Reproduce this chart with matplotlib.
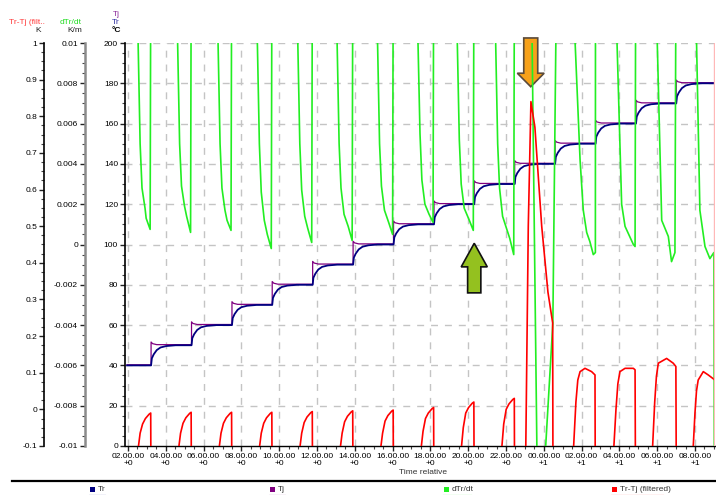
import matplotlib
matplotlib.use("Agg")
import matplotlib.pyplot as plt
from matplotlib.lines import Line2D
from matplotlib.patches import Polygon, Rectangle
from matplotlib.ticker import FixedLocator, MultipleLocator

plt.rcParams['font.family'] = ['Liberation Sans', 'DejaVu Sans']

# x axis is in hours counted from 00:00 of day +0
x_ticks = [2, 4, 6, 8, 10, 12, 14, 16, 18, 20, 22, 24, 26, 28, 30, 32]
x_labels = ["02.00.00\n+0", "04.00.00\n+0", "06.00.00\n+0", "08.00.00\n+0",
            "10.00.00\n+0", "12.00.00\n+0", "14.00.00\n+0", "16.00.00\n+0",
            "18.00.00\n+0", "20.00.00\n+0", "22.00.00\n+0", "00.00.00\n+1",
            "02.00.00\n+1", "04.00.00\n+1", "06.00.00\n+1", "08.00.00\n+1"]

temp_ticks = [0, 20, 40, 60, 80, 100, 120, 140, 160, 180, 200]
rate_ticks = [-0.01, -0.008, -0.006, -0.004, -0.002, 0, 0.002, 0.004, 0.006, 0.008, 0.01]
rate_labels = ["-0.01", "-0.008", "-0.006", "-0.004", "-0.002", "0",
               "0.002", "0.004", "0.006", "0.008", "0.01"]
diff_ticks = [-0.1, 0, 0.1, 0.2, 0.3, 0.4, 0.5, 0.6, 0.7, 0.8, 0.9, 1.0]
diff_labels = ["-0.1", "0", "0.1", "0.2", "0.3", "0.4", "0.5", "0.6", "0.7", "0.8", "0.9", "1"]

# Tr (reactor temperature)
tr_t = [1.95, 3.22, 3.26, 3.36, 3.52, 3.72, 4.02, 4.52,
        5.36, 5.40, 5.50, 5.66, 5.86, 6.16, 6.66,
        7.50, 7.54, 7.64, 7.80, 8.00, 8.30, 8.80,
        9.63, 9.67, 9.77, 9.93, 10.13, 10.43, 10.93,
        11.77, 11.81, 11.91, 12.07, 12.27, 12.57, 13.07,
        13.91, 13.95, 14.05, 14.21, 14.41, 14.71, 15.21,
        16.05, 16.09, 16.19, 16.35, 16.55, 16.85, 17.35,
        18.19, 18.23, 18.33, 18.49, 18.69, 18.99, 19.49,
        20.32, 20.36, 20.46, 20.62, 20.82, 21.12, 21.62,
        22.46, 22.50, 22.60, 22.76, 22.96, 23.26, 23.76,
        24.60, 24.64, 24.74, 24.90, 25.10, 25.40, 25.90,
        26.74, 26.78, 26.88, 27.04, 27.24, 27.54, 28.04,
        28.88, 28.92, 29.02, 29.18, 29.38, 29.68, 30.18,
        31.01, 31.05, 31.15, 31.31, 31.51, 31.81, 32.31, 33.06]
tr_v = [40, 40, 43.5, 45.5, 47.6, 48.9, 49.6, 50,
        50, 53.5, 55.5, 57.6, 58.9, 59.6, 60,
        60, 63.5, 65.5, 67.6, 68.9, 69.6, 70,
        70, 73.5, 75.5, 77.6, 78.9, 79.6, 80,
        80, 83.5, 85.5, 87.6, 88.9, 89.6, 90,
        90, 93.5, 95.5, 97.6, 98.9, 99.6, 100,
        100, 103.5, 105.5, 107.6, 108.9, 109.6, 110,
        110, 113.5, 115.5, 117.6, 118.9, 119.6, 120,
        120, 123.5, 125.5, 127.6, 128.9, 129.6, 130,
        130, 133.5, 135.5, 137.6, 138.9, 139.6, 140,
        140, 143.5, 145.5, 147.6, 148.9, 149.6, 150,
        150, 153.5, 155.5, 157.6, 158.9, 159.6, 160,
        160, 163.5, 165.5, 167.6, 168.9, 169.6, 170,
        170, 173.5, 175.5, 177.6, 178.9, 179.6, 180, 180]

# Tj (jacket temperature)
tj_t = [1.95, 3.22, 3.22, 3.30, 3.52, 5.36, 5.36, 5.44, 5.66,
        7.50, 7.50, 7.58, 7.80, 9.63, 9.63, 9.71, 9.93,
        11.77, 11.77, 11.85, 12.07, 13.91, 13.91, 13.99, 14.21,
        16.05, 16.05, 16.13, 16.35, 18.19, 18.19, 18.27, 18.49,
        20.32, 20.32, 20.40, 20.62, 22.46, 22.46, 22.54, 22.76,
        24.60, 24.60, 24.68, 24.90, 26.74, 26.74, 26.82, 27.04,
        28.88, 28.88, 28.96, 29.18, 31.01, 31.01, 31.09, 31.31, 33.06]
tj_v = [40.3, 40.3, 51.6, 50.8, 50.3, 50.3, 61.6, 60.8, 60.3,
        60.3, 71.6, 70.8, 70.3, 70.3, 81.6, 80.8, 80.3,
        80.3, 91.6, 90.8, 90.3, 90.3, 101.6, 100.8, 100.3,
        100.3, 111.6, 110.8, 110.3, 110.3, 121.6, 120.8, 120.3,
        120.3, 131.6, 130.8, 130.3, 130.3, 141.6, 140.8, 140.3,
        140.3, 151.6, 150.8, 150.3, 150.3, 161.6, 160.8, 160.3,
        160.3, 171.6, 170.8, 170.3, 170.3, 181.6, 180.8, 180.3, 180.3]

# dTr/dt
dtr_t = [1.84,
         2.53, 2.64, 2.74, 2.90, 2.96, 3.17, 3.22,
         4.62, 4.73, 4.83, 4.99, 5.10, 5.31, 5.36,
         6.76, 6.87, 6.97, 7.13, 7.24, 7.45, 7.50,
         8.84, 8.95, 9.05, 9.21, 9.37, 9.58, 9.63,
         10.98, 11.09, 11.19, 11.35, 11.51, 11.72, 11.77,
         13.06, 13.17, 13.27, 13.43, 13.65, 13.86, 13.91,
         15.20, 15.31, 15.41, 15.57, 15.79, 16.00, 16.05,
         17.34, 17.45, 17.55, 17.71, 17.93, 18.14, 18.19,
         19.42, 19.53, 19.63, 19.79, 20.06, 20.27, 20.32,
         21.45, 21.56, 21.66, 21.82, 22.20, 22.41, 22.46,
         23.38, 23.64, 24.07, 24.48, 24.64, 24.66,
         25.65, 25.92, 26.09, 26.27, 26.44, 26.62, 26.73, 26.74,
         27.87, 28.12, 28.30, 28.74, 28.83, 28.88,
         30.00, 30.24, 30.59, 30.76, 30.94, 31.02,
         32.08, 32.26, 32.53, 32.79, 33.00, 33.04]
dtr_v = [0.02,
         0.0102, 0.005, 0.0028, 0.0018, 0.0013, 0.00075, 0.02,
         0.0102, 0.005, 0.0029, 0.0019, 0.0014, 0.0006, 0.02,
         0.0102, 0.005, 0.0028, 0.0017, 0.0012, 0.0007, 0.02,
         0.0102, 0.005, 0.0026, 0.0012, 0.0005, -0.0002, 0.02,
         0.0102, 0.005, 0.0027, 0.0014, 0.0008, 0.0001, 0.02,
         0.0102, 0.005, 0.0028, 0.0015, 0.0009, 0.0002, 0.02,
         0.0102, 0.005, 0.0029, 0.0017, 0.0011, 0.0005, 0.02,
         0.0102, 0.0055, 0.0032, 0.002, 0.0015, 0.0011, 0.02,
         0.0102, 0.0052, 0.003, 0.0018, 0.0012, 0.0007, 0.02,
         0.0102, 0.005, 0.0028, 0.0014, 0.0003, -0.0005, 0.02,
         0.0102, -0.0105, -0.0105, -0.0039, 0.0102, 0.02,
         0.0102, 0.0042, 0.0017, 0.0006, 0.00014, -0.0005, -0.0004, 0.02,
         0.0102, 0.002, 0.0009, 0.0, -0.0001, 0.02,
         0.0102, 0.0012, 0.0004, -0.00085, -0.0004, 0.02,
         0.0102, 0.0017, -0.0001, -0.0007, -0.0004, -0.02]

# Tr-Tj (filtered)
diff_t = [1.84,
          2.53, 2.64, 2.77, 2.92, 3.12, 3.20, 3.22,
          4.67, 4.78, 4.91, 5.06, 5.26, 5.34, 5.36,
          6.81, 6.92, 7.05, 7.20, 7.40, 7.48, 7.50,
          8.94, 9.05, 9.18, 9.33, 9.53, 9.61, 9.63,
          11.08, 11.19, 11.32, 11.47, 11.67, 11.75, 11.77,
          13.22, 13.33, 13.46, 13.61, 13.81, 13.89, 13.91,
          15.36, 15.47, 15.60, 15.75, 15.95, 16.03, 16.05,
          17.50, 17.61, 17.74, 17.89, 18.09, 18.17, 18.19,
          19.63, 19.74, 19.87, 20.02, 20.22, 20.30, 20.32,
          21.77, 21.88, 22.01, 22.16, 22.36, 22.44, 22.46,
          23.00, 23.06, 23.18, 23.32, 23.53, 23.89, 24.22, 24.47, 24.49,
          25.58, 25.70, 25.80, 25.92, 26.18, 26.53, 26.71, 26.73,
          27.71, 27.82, 27.92, 28.03, 28.30, 28.74, 28.83, 28.86,
          29.76, 29.87, 29.96, 30.06, 30.50, 30.85, 30.99, 31.02,
          31.91, 32.00, 32.08, 32.17, 32.44, 32.70, 33.06]
diff_v = [-0.3,
          -0.11, -0.065, -0.040, -0.025, -0.013, -0.010, -0.3,
          -0.11, -0.065, -0.038, -0.023, -0.011, -0.008, -0.3,
          -0.11, -0.065, -0.038, -0.023, -0.011, -0.008, -0.3,
          -0.11, -0.065, -0.038, -0.023, -0.011, -0.008, -0.3,
          -0.11, -0.065, -0.036, -0.021, -0.009, -0.006, -0.3,
          -0.11, -0.065, -0.034, -0.019, -0.007, -0.004, -0.3,
          -0.11, -0.065, -0.032, -0.017, -0.005, -0.002, -0.3,
          -0.11, -0.06, -0.025, -0.010, 0.002, 0.005, -0.3,
          -0.11, -0.05, -0.010, 0.005, 0.017, 0.020, -0.3,
          -0.11, -0.04, 0.000, 0.015, 0.027, 0.030, -0.3,
          -0.3, -0.05, 0.50, 0.84, 0.77, 0.50, 0.32, 0.236, -0.3,
          -0.1, 0.02, 0.08, 0.103, 0.112, 0.103, 0.094, -0.3,
          -0.1, 0.0, 0.07, 0.103, 0.112, 0.112, 0.108, -0.3,
          -0.1, 0.02, 0.09, 0.126, 0.139, 0.126, 0.117, -0.3,
          -0.1, -0.01, 0.05, 0.08, 0.103, 0.094, 0.08]

W, H = 716, 495
fig = plt.figure(figsize=(W / 100, H / 100), dpi=100)
ax = fig.add_axes([125 / W, 1 - 446 / H, 590 / W, 403 / H])
ax_g = ax.twinx()
ax_r = ax.twinx()

grid_kw = dict(color="#c4c4c4", lw=1.0, dashes=(5, 5))
for yv in temp_ticks[1:]:
    ax.axhline(yv, zorder=0, **grid_kw)
for xv in x_ticks:
    ax.axvline(xv, zorder=0, **grid_kw)

ax.plot(tr_t, tr_v, color="#000080", lw=1.3, zorder=3)
ax.plot(tj_t, tj_v, color="#800080", lw=0.9, zorder=2)
ax_g.plot(dtr_t, dtr_v, color="#22ee22", lw=1.2)
ax_r.plot(diff_t, diff_v, color="#ff0000", lw=1.2)
ax_r.axvline(33.03, color="#ffb8b8", lw=1.0)

ax.set_xlim(1.84, 33.06)
ax.set_ylim(0, 200)
ax_g.set_ylim(-0.01, 0.01)
ax_r.set_ylim(-0.1, 1.0)

for a in (ax, ax_g, ax_r):
    for s in ("top", "right"):
        a.spines[s].set_visible(False)
for a in (ax_g, ax_r):
    a.spines["bottom"].set_visible(False)
    a.yaxis.tick_left()

ax_g.spines["left"].set_position(("axes", (85 - 125) / 590))
ax_r.spines["left"].set_position(("axes", (44 - 125) / 590))
ax_g.spines["left"].set_color("#8a8a8a")
ax_g.spines["left"].set_linewidth(1.8)
ax.spines["left"].set_linewidth(1.2)
ax_r.spines["left"].set_linewidth(1.2)
ax.spines["bottom"].set_linewidth(1.0)

ax.set_xticks(x_ticks)
ax.set_xticklabels(x_labels, linespacing=1.0)
ax.xaxis.set_minor_locator(MultipleLocator(0.5))
ax.set_yticks(temp_ticks)
ax.yaxis.set_minor_locator(MultipleLocator(5))
ax_g.yaxis.set_major_locator(FixedLocator(rate_ticks))
ax_g.set_yticklabels(rate_labels)
ax_g.yaxis.set_minor_locator(MultipleLocator(0.0005))
ax_r.yaxis.set_major_locator(FixedLocator(diff_ticks))
ax_r.set_yticklabels(diff_labels)
ax_r.yaxis.set_minor_locator(MultipleLocator(0.025))

for a in (ax, ax_g, ax_r):
    a.tick_params(which="major", length=3.5, width=1.0, labelsize=6, pad=1.5, color="#222222")
    a.tick_params(which="minor", length=2, width=0.8, color="#444444")

fig.text(423 / W, 1 - 472 / H, "Time relative", fontsize=6, ha="center", va="center", color="#333333")

# axis headers
fig.text(45 / W, 1 - 22.7 / H, "Tr-Tj (filt..", fontsize=6, ha="right", va="center", color="#ff3b3b")
fig.text(41 / W, 1 - 30.7 / H, "K", fontsize=6, ha="right", va="center", color="#222222")
fig.text(82 / W, 1 - 22.7 / H, "dTr/dt", fontsize=6, ha="right", va="center", color="#22dd22")
fig.text(82 / W, 1 - 30.7 / H, "K/m", fontsize=6, ha="right", va="center", color="#222222")
fig.text(120 / W, 1 - 14 / H, "Tj", fontsize=6, ha="right", va="center", color="#8b2b9b")
fig.text(120 / W, 1 - 22.7 / H, "Tr", fontsize=6, ha="right", va="center", color="#3030a0")
fig.text(121 / W, 1 - 30.7 / H, "°C", fontsize=6, ha="right", va="center", color="#000000", fontweight="bold")

# annotation arrows (data coords of the temperature axis)
orange = [(22.94, 202.5), (23.68, 202.5), (23.68, 185.0), (24.02, 185.0),
          (23.31, 178.3), (22.60, 185.0), (22.94, 185.0)]
ax.add_patch(Polygon(orange, closed=True, facecolor="#f7a11a", edgecolor="#5a4a3a",
                     lw=1.2, clip_on=False, zorder=6))
green = [(19.97, 76.0), (20.67, 76.0), (20.67, 88.9), (21.01, 88.9),
         (20.32, 100.6), (19.63, 88.9), (19.97, 88.9)]
ax.add_patch(Polygon(green, closed=True, facecolor="#94c11f", edgecolor="#111111",
                     lw=1.2, clip_on=False, zorder=6))

# legend strip
fig.add_artist(Line2D([12 / W, 1.0], [1 - 481 / H, 1 - 481 / H], color="#000000", lw=1.6))
legend_items = [("Tr", 90, 105, "#000080"), ("Tj", 270, 285, "#800080"),
                ("dTr/dt", 444, 471, "#22ee22"), ("Tr-Tj (filtered)", 612, 663, "#ff0000")]
for name, x0, x1, col in legend_items:
    fig.add_artist(Rectangle((x0 / W, 1 - 491.5 / H), 4.5 / W, 4.5 / H, facecolor=col,
                             edgecolor="none", transform=fig.transFigure))
    fig.text((x0 + 7.5) / W, 1 - 489.5 / H, name, fontsize=6, ha="left", va="center", color="#333333")
    fig.add_artist(Line2D([(x0 - 1) / W, x1 / W], [1 - 494.5 / H, 1 - 494.5 / H], color=col, lw=0.8))

fig.savefig("out.png", dpi=100)
